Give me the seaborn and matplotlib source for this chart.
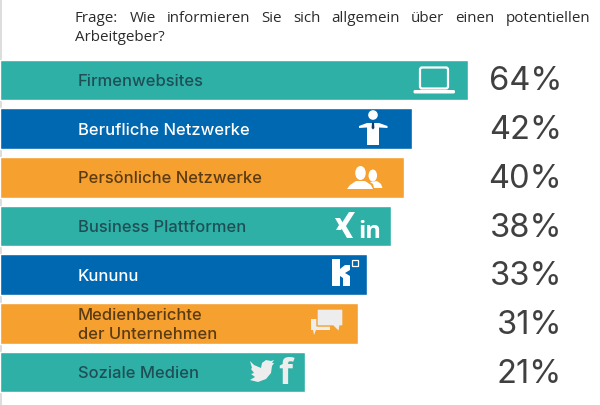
import matplotlib
matplotlib.use("Agg")
import matplotlib.pyplot as plt
from matplotlib.patches import Circle, Ellipse, FancyBboxPatch, Polygon, Rectangle
import pandas as pd
import seaborn as sns

# Bars in the picture are not proportional to the percentages,
# so the lengths are read off separately
categories = ["Firmenwebsites", "Berufliche Netzwerke", "Persönliche Netzwerke", "Business Plattformen",
              "Kununu", "Medienberichte\nder Unternehmen", "Soziale Medien"]
percent_labels = ["64%", "42%", "40%", "38%", "33%", "31%", "21%"]
bar_lengths = [468, 412, 404, 391, 367, 357.5, 305]
bar_colors = ["#2FB0A7", "#0067B1", "#F6A02F", "#2FB0A7", "#0067B1", "#F6A02F", "#2FB0A7"]
label_colors = ["#1D4F55", "#FFFFFF", "#5A3B14", "#1D4F55", "#FFFFFF", "#5A3B14", "#1D4F55"]
question_line1 = "Frage: Wie informieren Sie sich allgemein über einen potentiellen"
question_line2 = "Arbeitgeber?"

sns.set_theme(style="white")
plt.rcParams["font.family"] = ["Open Sans", "DejaVu Sans"]

W, H = 600, 406
fig = plt.figure(figsize=(W / 100, H / 100), dpi=100)

# thin grey page edge on the left, bars cover it
fig.patches.append(Rectangle((0, 0), 1.5 / W, 1, transform=fig.transFigure, color="#DDDDDD", lw=0, zorder=-1))

# bar axes, pitch of 48.7 px per row
top, bottom = 56.6, 397.5
ax = fig.add_axes([0, 1 - bottom / H, 1, (bottom - top) / H])
ax.patch.set_alpha(0)
df = pd.DataFrame({"category": categories, "length": bar_lengths})
sns.barplot(data=df, x="length", y="category", hue="category", palette=bar_colors,
            legend=False, width=0.835, saturation=1, ax=ax)
ax.set_xlim(0, W)
ax.set_ylim(6.5, -0.5)
ax.axis("off")

# overlay in pixel coordinates for texts and icons
ov = fig.add_axes([0, 0, 1, 1])
ov.set_xlim(0, W)
ov.set_ylim(H, 0)
ov.axis("off")
ov.patch.set_alpha(0)

# question, first line justified like in the source
words = question_line1.split(" ")
renderer = fig.canvas.get_renderer()
q_style = dict(fontsize=10.9, color="#2B2B2B", family="Open Sans", va="center", ha="left")
items = [ov.text(0, 18.5, w, **q_style) for w in words]
widths = [t.get_window_extent(renderer).width for t in items]
gap = (590 - 75 - sum(widths)) / (len(words) - 1)
x = 75
for t, w in zip(items, widths):
    t.set_x(x)
    x += w + gap
ov.text(75, 37.5, question_line2, **q_style)

# row labels and percentages
for i, (cat, pct, col) in enumerate(zip(categories, percent_labels, label_colors)):
    yc = 81 + i * 48.7
    ov.text(78, yc + 0.5, cat, color=col, fontsize=11.9, family="Inter", fontweight="medium",
            va="center", ha="left", linespacing=1.35)
    ov.text(562, yc + 1, pct, color="#404040", fontsize=23.5, family="Inter", fontweight="normal",
            va="center", ha="right")

ic = "#FFFFFF"
soft = "#EDEDED"

# laptop
ov.add_patch(FancyBboxPatch((420, 68.5), 28, 21, boxstyle="round,pad=0,rounding_size=2", fc="none", ec=ic, lw=1.6))
ov.add_patch(FancyBboxPatch((413.5, 91), 41.5, 3.5, boxstyle="round,pad=0,rounding_size=1.5", fc=ic, ec="none"))

# person with tie
ov.add_patch(Circle((373, 116), 4.8, fc=ic, ec="none"))
ov.add_patch(Polygon([(359, 127), (367, 124), (379, 124), (387.5, 127), (387.5, 129), (379, 128.5),
                      (379, 146), (367, 146), (367, 128.5), (359, 129)], fc=ic, ec="none"))
ov.add_patch(Rectangle((372.6, 135), 0.8, 11, fc="#0067B1", ec="none"))
ov.add_patch(Polygon([(372, 123.5), (374, 123.5), (374.4, 129), (373, 130.5), (371.6, 129)], fc="#0F3D66", ec="none"))

# two people
ov.add_patch(Ellipse((360.5, 174), 10.5, 14, fc=ic, ec="none"))
ov.add_patch(Polygon([(347, 190), (350, 186), (356, 182), (365, 182), (371, 186), (373, 190)], fc=ic, ec="none"))
ov.add_patch(Ellipse((372.8, 176.5), 8.5, 12, fc=ic, ec="none"))
ov.add_patch(Polygon([(374, 189), (373, 185), (370, 183), (377, 182), (381, 185), (382.5, 189)], fc=ic, ec="none"))

# xing + linkedin
ov.add_patch(Polygon([(335, 219), (340, 219), (344, 226), (341, 231), (336, 231), (339, 226)], fc=ic, ec="none"))
ov.add_patch(Polygon([(349, 213), (355, 213), (346, 227), (353, 239), (347, 239), (340, 227)], fc=ic, ec="none"))
ov.text(369.5, 232.5, "in", color=ic, fontsize=17, family="Open Sans", fontweight="bold", ha="center", va="center")

# kununu
ov.add_patch(Polygon([(332, 260), (340, 260), (340, 270), (345, 266), (350, 266), (350, 271), (345, 274), (350, 277),
                      (350, 287), (343, 287), (343, 279), (340, 277), (340, 287), (332, 287)], fc=ic, ec="none"))
ov.add_patch(Rectangle((351.5, 260.5), 6, 6, fc="none", ec=ic, lw=0.9))

# speech bubbles, small one behind
ov.add_patch(Polygon([(311, 320), (330, 320), (330, 331), (316, 331), (314, 336), (313, 331), (311, 331)],
                     fc=soft, ec="none"))
ov.add_patch(Polygon([(317, 310), (343, 310), (343, 327), (340, 327), (339, 333), (333, 327), (317, 327)],
                     fc=soft, ec="#F6A02F", lw=1))

# twitter + facebook
ov.add_patch(Polygon([(250, 362), (254, 366), (261, 369), (262, 364), (266, 361), (271, 362), (274, 361), (272, 364),
                      (274, 364), (272, 367), (271, 374), (266, 380), (258, 383), (250, 381), (255, 378),
                      (251, 375), (254, 374), (251, 370), (252, 369)], fc=soft, ec="none"))
ov.text(285.5, 375, "f", color=soft, fontsize=26, family="Open Sans", fontweight="bold", ha="center", va="center")

plt.savefig("out.png", dpi=100)
plt.close()
